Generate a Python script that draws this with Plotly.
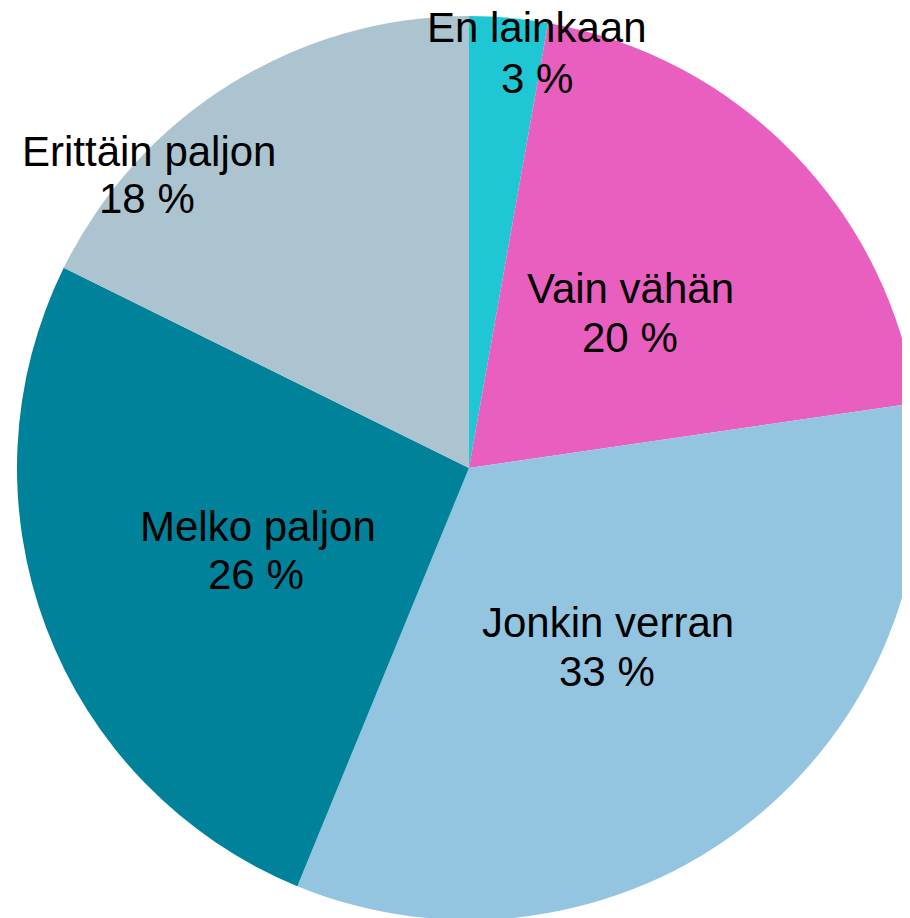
import plotly.graph_objects as go

labels = ["En lainkaan", "Vain vähän", "Jonkin verran", "Melko paljon", "Erittäin paljon"]
values = [2.8, 19.9, 33.5, 26.1, 17.7]
pct_text = ["3 %", "20 %", "33 %", "26 %", "18 %"]
colors = ["#1FC7D4", "#E95FBF", "#93C5E1", "#00829B", "#ABC4CF"]

# Figure size (the page body adds an 8px offset, so the figure is a bit larger than the window)
W, H = 913, 918

# label line centres in figure pixels: (x_label, y_label, x_pct, y_pct)
label_px = [
    (529, 20, 528.5, 70),
    (622.5, 281, 621.5, 329.5),
    (600, 614, 599, 663),
    (249.5, 518, 247.5, 566),
    (141, 143, 139, 191),
]

fig = go.Figure(go.Pie(
    labels=labels,
    values=values,
    sort=False,
    direction="clockwise",
    rotation=0,
    marker=dict(colors=colors, line=dict(width=0)),
    textinfo="none",
    hoverinfo="label+percent",
    domain=dict(x=[9 / W, 1], y=[1 - 912 / H, 1 - 8 / H]),
    showlegend=False,
))

font = dict(family="Liberation Sans, Arial, sans-serif", size=42, color="#000000")
for lab, pct, (x1, y1, x2, y2) in zip(labels, pct_text, label_px):
    for txt, x, y in ((lab, x1, y1), (pct, x2, y2)):
        fig.add_annotation(
            x=x / W, y=1 - y / H, xref="paper", yref="paper",
            text=txt, showarrow=False, font=font,
            xanchor="center", yanchor="middle",
        )

fig.update_layout(
    width=W, height=H,
    margin=dict(l=0, r=0, t=0, b=0),
    paper_bgcolor="white",
    plot_bgcolor="white",
)

fig.write_html("out.html")
